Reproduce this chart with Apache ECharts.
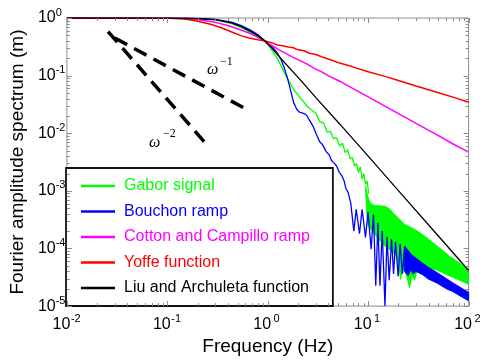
<!DOCTYPE html>
<html>
<head>
<meta charset="utf-8">
<script src="https://cdn.jsdelivr.net/npm/echarts@6/dist/echarts.min.js"></script>
<style>
  html, body { margin: 0; padding: 0; background: #ffffff; }
  #chart { width: 486px; height: 361px; }
</style>
</head>
<body>
<div id="chart"></div>
<script>
// Axis ranges (decade exponents)
const xDecades = [-2, -1, 0, 1, 2];
const yDecades = [-5, -4, -3, -2, -1, 0];

const seriesNames = ['Gabor signal', 'Bouchon ramp', 'Cotton and Campillo ramp', 'Yoffe function', 'Liu and Archuleta function'];
const seriesColors = ['#00ff00', '#0000ff', '#ff00ff', '#ff0000', '#000000'];

// Gabor signal: smooth part with ripples, then a dense oscillating band
const gaborLine = [
  [0.01, 1], [0.05, 1], [0.1, 0.995], [0.15, 0.985], [0.2, 0.965], [0.3, 0.93],
  [0.435, 0.8], [0.546, 0.68], [0.68, 0.55], [0.8, 0.47], [0.92, 0.41],
  [1.05, 0.31], [1.2, 0.22], [1.34, 0.155], [1.5, 0.103], [1.67, 0.074],
  [1.8, 0.058], [1.95, 0.049], [2.1, 0.041], [2.25, 0.036], [2.44, 0.030],
  [2.62, 0.027], [2.83, 0.024], [3.0, 0.0227], [3.3, 0.0159], [3.6, 0.0151],
  [3.9, 0.0105], [4.2, 0.0108], [4.5, 0.0081], [4.85, 0.0083], [5.2, 0.0060],
  [5.55, 0.0067], [5.9, 0.0046], [6.25, 0.0052], [6.6, 0.0036], [6.95, 0.0038],
  [7.3, 0.0027], [7.65, 0.0030], [8.0, 0.0021], [8.35, 0.0026], [8.7, 0.0016],
  [9.05, 0.0020], [9.4, 0.0013], [9.75, 0.0015], [10.1, 0.0009]
];
const gaborBandUpper = [
  [9.4, 1.2e-3], [10, 7.5e-4], [10.6, 6.0e-4], [11.7, 5.5e-4], [13, 5.5e-4],
  [14.7, 5.4e-4], [16.5, 4.8e-4], [18, 4.0e-4], [19.9, 3.4e-4], [23.1, 2.6e-4],
  [27, 2.3e-4], [31.1, 2.0e-4], [38.9, 1.5e-4], [48.7, 1.1e-4], [57, 8.8e-5],
  [65.8, 7.2e-5], [82.3, 5.5e-5], [100, 4.0e-5]
];
const gaborBandLower = [
  [9.4, 1.1e-3], [9.7, 4.0e-4], [10, 2.5e-4], [11.3, 1.9e-4], [12.7, 1.45e-4], [14.7, 1.1e-4],
  [17.1, 9.0e-5], [19, 7.5e-5], [20.3, 5.0e-5], [21, 2.9e-5], [22, 4.5e-5],
  [24, 3.5e-5], [25.8, 2.1e-5], [27.5, 3.5e-5], [29, 2.8e-5], [31, 4.5e-5],
  [35, 4.8e-5], [38.9, 4.7e-5], [48.7, 4.2e-5], [65.8, 3.3e-5], [82, 2.8e-5],
  [100, 2.4e-5]
];

// Bouchon ramp: smooth part, deep spectral holes, then a narrow band
const bouchonLine = [
  [0.01, 1], [0.05, 1], [0.1, 0.997], [0.15, 0.99], [0.2, 0.98], [0.3, 0.95],
  [0.435, 0.85], [0.546, 0.74], [0.68, 0.61], [0.8, 0.51], [0.92, 0.41],
  [1.05, 0.34], [1.2, 0.27], [1.34, 0.2], [1.44, 0.145], [1.56, 0.095],
  [1.67, 0.06], [1.81, 0.034], [1.95, 0.0258], [2.05, 0.0235], [2.15, 0.0227],
  [2.3, 0.022], [2.44, 0.0205], [2.62, 0.0165], [2.83, 0.0132], [3.05, 0.0095],
  [3.29, 0.0071], [3.5, 0.0064], [3.65, 0.0061], [3.82, 0.0048], [4.1, 0.0042],
  [4.3, 0.0034], [4.6, 0.0030], [4.85, 0.0027], [5.15, 0.0021], [5.5, 0.0018],
  [5.75, 0.0015], [6.0, 0.0011], [6.3, 0.00095], [6.7, 0.00062],
  [7.2, 2.0e-4], [7.6, 4.8e-4], [8.2, 1.8e-4], [8.7, 4.8e-4], [9.4, 1.55e-4],
  [9.97, 4.3e-4], [10.7, 9.7e-5], [11.3, 3.9e-4], [11.9, 2.25e-5], [12.5, 2.8e-4],
  [13.1, 2.25e-5], [13.8, 2.0e-4], [14.7, 1.0e-5], [15.4, 1.6e-4], [16.2, 2.8e-5],
  [17.1, 1.45e-4], [17.9, 3.6e-5], [18.7, 1.3e-4], [19.9, 3.3e-5], [20.8, 1.2e-4],
  [21.9, 3.6e-5], [23.1, 1.1e-4]
];
const bouchonBandUpper = [
  [23.1, 1.1e-4], [27, 7.8e-5], [32, 6.2e-5], [39, 4.8e-5], [48.7, 3.8e-5],
  [60, 3.0e-5], [70.5, 2.5e-5], [85, 2.05e-5], [100, 1.73e-5]
];
const bouchonBandLower = [
  [23.1, 4.0e-5], [25, 3.4e-5], [26.5, 4.3e-5], [28, 3.6e-5], [30, 4.0e-5],
  [35, 3.5e-5], [39, 3.0e-5], [48.7, 2.5e-5], [60, 2.0e-5], [70.5, 1.77e-5],
  [85, 1.45e-5], [100, 1.24e-5]
];

const cottonLine = [
  [0.01, 1], [0.1, 0.995], [0.15, 0.98], [0.2, 0.94], [0.3, 0.84], [0.4, 0.74],
  [0.5, 0.65], [0.68, 0.53], [0.8, 0.46], [0.92, 0.40], [1.14, 0.32], [1.3, 0.28],
  [1.5, 0.245], [1.75, 0.212], [2.0, 0.19], [2.2, 0.175], [2.44, 0.16], [2.7, 0.145],
  [3.0, 0.13], [3.4, 0.117], [4, 0.10], [5.2, 0.08], [7, 0.06], [10, 0.0427],
  [15, 0.029], [20, 0.0219], [30, 0.0148], [50, 0.0091], [70, 0.0065], [100, 0.0047]
];

const yoffeLine = [
  [0.01, 1], [0.1, 0.995], [0.15, 0.96], [0.2, 0.88], [0.27, 0.78], [0.35, 0.67],
  [0.45, 0.56], [0.55, 0.49], [0.65, 0.45], [0.8, 0.42], [0.95, 0.40], [1.1, 0.37],
  [1.25, 0.34], [1.4, 0.33], [1.6, 0.315], [1.8, 0.305], [2.0, 0.28], [2.3, 0.27],
  [2.6, 0.245], [3.0, 0.232], [3.5, 0.21], [4.2, 0.188], [5.2, 0.165], [7, 0.142],
  [10, 0.117], [15, 0.096], [20, 0.082], [30, 0.066], [50, 0.0505], [70, 0.0423],
  [100, 0.0345]
];

const liuLine = [
  [0.01, 1], [0.1, 0.995], [0.2, 0.975], [0.3, 0.94], [0.435, 0.82], [0.546, 0.71],
  [0.68, 0.58], [0.8, 0.49], [0.92, 0.41], [1.1, 0.30], [1.4, 0.185], [2.1, 0.085],
  [3, 0.042], [5.2, 0.0145], [10, 0.0040], [20, 0.00101], [50, 0.000165], [100, 0.0000415]
];

// Reference slopes
const slopeOmega1 = [[0.03, 0.45], [0.64, 0.025]];
const slopeOmega2 = [[0.0257, 0.58], [0.25, 0.0062]];

const FONT = '"Liberation Sans", Arial, Helvetica, sans-serif';
const SERIF = '"Liberation Serif", "Times New Roman", serif';
const FRAME = '#8c8c8c';
const X_MIN = Math.pow(10, xDecades[0]), X_MAX = Math.pow(10, xDecades[xDecades.length - 1]);
const Y_MIN = Math.pow(10, yDecades[0]), Y_MAX = Math.pow(10, yDecades[yDecades.length - 1]);

function powerLabel(v) {
  const e = Math.round(Math.log10(v));
  return '{b|10}{s|' + e + '}';
}
const labelRich = {
  b: { fontSize: 16, fontFamily: FONT, color: '#000', lineHeight: 16, padding: [6, 0, 0, 0] },
  s: { fontSize: 11, fontFamily: FONT, color: '#000', lineHeight: 11, verticalAlign: 'top', width: 11, align: 'left' }
};

function bandRenderer(upper, lower, color) {
  return function (params, api) {
    if (params.dataIndex !== 0) return null;
    const pts = upper.map(p => api.coord(p))
      .concat(lower.slice().reverse().map(p => api.coord(p)));
    return {
      type: 'polygon',
      shape: { points: pts },
      style: { fill: color, stroke: color, lineWidth: 1 }
    };
  };
}

// Inward major and minor ticks on all four sides of the frame
function renderFrameTicks(params, api) {
  if (params.dataIndex !== 0) return null;
  const cs = params.coordSys;
  const left = cs.x, right = cs.x + cs.width, top = cs.y, bottom = cs.y + cs.height;
  const children = [];
  const seg = (x1, y1, x2, y2) => children.push({
    type: 'line', shape: { x1, y1, x2, y2 }, style: { stroke: FRAME, lineWidth: 1 }
  });
  const snap = v => Math.round(v) + 0.5;
  xDecades.forEach((d, i) => {
    const base = Math.pow(10, d);
    const px = snap(api.coord([base, Y_MIN])[0]);
    seg(px, bottom, px, bottom - 5); seg(px, top, px, top + 5);
    if (i < xDecades.length - 1) {
      for (let m = 2; m <= 9; m++) {
        const mx = snap(api.coord([m * base, Y_MIN])[0]);
        seg(mx, bottom, mx, bottom - 3); seg(mx, top, mx, top + 3);
      }
    }
  });
  yDecades.forEach((d, i) => {
    const base = Math.pow(10, d);
    const py = snap(api.coord([X_MIN, base])[1]);
    seg(left, py, left + 5, py); seg(right, py, right - 5, py);
    if (i < yDecades.length - 1) {
      for (let m = 2; m <= 9; m++) {
        const my = snap(api.coord([X_MIN, m * base])[1]);
        seg(left, my, left + 3, my); seg(right, my, right - 3, my);
      }
    }
  });
  return { type: 'group', children };
}

const lineStyleOf = (color, width) => ({ color: color, width: width });

const chart = echarts.init(document.getElementById('chart'), null, { renderer: 'canvas' });
chart.setOption({
  animation: false,
  backgroundColor: '#ffffff',
  grid: {
    left: 62, right: 14, top: 18, bottom: 54,
    show: true, borderColor: FRAME, borderWidth: 1, backgroundColor: 'transparent'
  },
  xAxis: {
    type: 'log', logBase: 10, min: X_MIN, max: X_MAX,
    axisLine: { show: false }, axisTick: { show: false }, splitLine: { show: false },
    axisLabel: { formatter: powerLabel, rich: labelRich, margin: 7, color: '#000' },
    name: 'Frequency (Hz)', nameLocation: 'middle', nameGap: 27,
    nameTextStyle: { fontFamily: FONT, fontSize: 19, color: '#000' }
  },
  yAxis: {
    type: 'log', logBase: 10, min: Y_MIN, max: Y_MAX,
    axisLine: { show: false }, axisTick: { show: false }, splitLine: { show: false },
    axisLabel: { formatter: powerLabel, rich: labelRich, margin: 29, align: 'left', padding: [0, 0, 6, 0], color: '#000' },
    name: 'Fourier amplitude spectrum (m)', nameLocation: 'middle', nameGap: 35,
    nameTextStyle: { fontFamily: FONT, fontSize: 19, color: '#000' }
  },
  legend: {
    orient: 'vertical', left: 66, top: 168,
    padding: [10, 23, 10, 15],
    itemGap: 9.5, itemWidth: 34, itemHeight: 2.5, icon: 'rect',
    itemStyle: { borderWidth: 0 },
    lineStyle: { width: 2.5 },
    backgroundColor: '#ffffff', borderColor: '#111111', borderWidth: 1.8,
    selectedMode: false,
    textStyle: { fontFamily: FONT, fontSize: 16, lineHeight: 16, padding: [0, 0, 0, 4] },
    data: seriesNames.map((n, i) => ({ name: n, textStyle: { color: seriesColors[i] } }))
  },
  graphic: [
    { type: 'text', x: 207, y: 70, style: { text: 'ω', font: 'italic 16px ' + SERIF, fill: '#000', verticalAlign: 'middle' } },
    { type: 'text', x: 220, y: 61.5, style: { text: '−1', font: '12px ' + SERIF, fill: '#000', verticalAlign: 'middle' } },
    { type: 'text', x: 149, y: 143, style: { text: 'ω', font: 'italic 16px ' + SERIF, fill: '#000', verticalAlign: 'middle' } },
    { type: 'text', x: 163, y: 133.5, style: { text: '−2', font: '12px ' + SERIF, fill: '#000', verticalAlign: 'middle' } }
  ],
  series: [
    { name: seriesNames[0], type: 'line', data: gaborLine, showSymbol: false, symbol: 'none',
      lineStyle: lineStyleOf(seriesColors[0], 1.3), itemStyle: { color: seriesColors[0] } },
    { name: seriesNames[0], type: 'custom', data: [[10, 1e-4]], silent: true,
      renderItem: bandRenderer(gaborBandUpper, gaborBandLower, seriesColors[0]), itemStyle: { color: seriesColors[0] } },
    { name: seriesNames[1], type: 'line', data: bouchonLine, showSymbol: false, symbol: 'none',
      lineStyle: lineStyleOf(seriesColors[1], 1.3), itemStyle: { color: seriesColors[1] } },
    { name: seriesNames[1], type: 'custom', data: [[10, 1e-4]], silent: true,
      renderItem: bandRenderer(bouchonBandUpper, bouchonBandLower, seriesColors[1]), itemStyle: { color: seriesColors[1] } },
    { name: seriesNames[2], type: 'line', data: cottonLine, showSymbol: false, symbol: 'none',
      lineStyle: lineStyleOf(seriesColors[2], 1.5), itemStyle: { color: seriesColors[2] } },
    { name: seriesNames[3], type: 'line', data: yoffeLine, showSymbol: false, symbol: 'none',
      lineStyle: lineStyleOf(seriesColors[3], 1.5), itemStyle: { color: seriesColors[3] } },
    { name: seriesNames[4], type: 'line', data: liuLine, showSymbol: false, symbol: 'none',
      lineStyle: lineStyleOf(seriesColors[4], 1.3), itemStyle: { color: seriesColors[4] } },
    { name: 'omega^-1', type: 'line', data: slopeOmega1, showSymbol: false, symbol: 'none',
      lineStyle: { color: '#000', width: 3.5, type: [14, 8] } },
    { name: 'omega^-2', type: 'line', data: slopeOmega2, showSymbol: false, symbol: 'none',
      lineStyle: { color: '#000', width: 3.5, type: [14, 8] } },
    { name: 'frame ticks', type: 'custom', data: [[1, 1]], silent: true, z: 5,
      renderItem: renderFrameTicks }
  ]
});
</script>
</body>
</html>
